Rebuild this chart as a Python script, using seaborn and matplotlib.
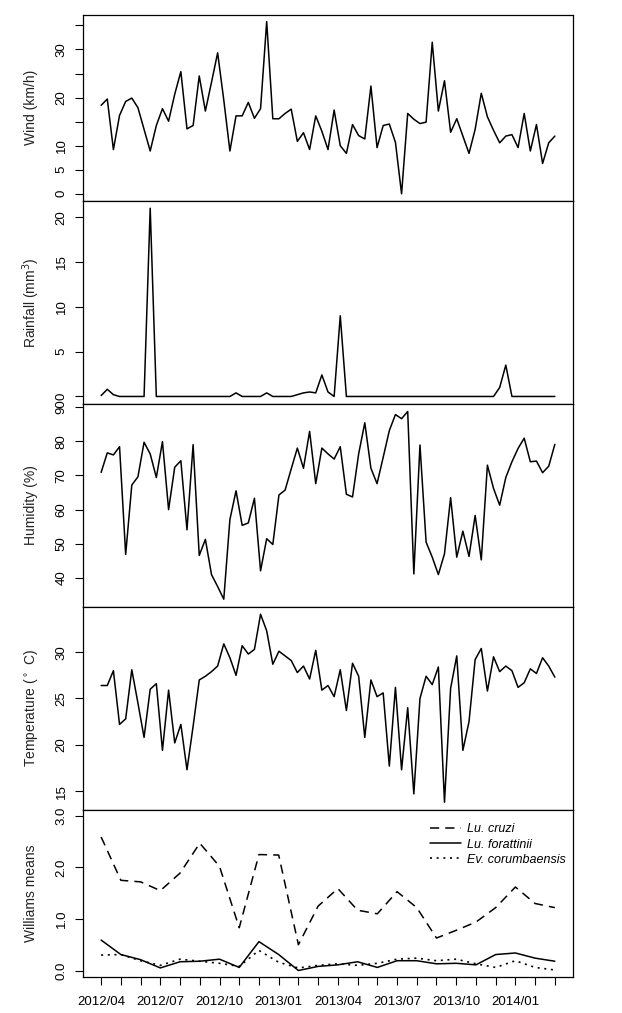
import numpy as np
import pandas as pd
import matplotlib
matplotlib.use('Agg')
import matplotlib.pyplot as plt
import seaborn as sns

# weather series (75 samples, 2012/04 - 2014/03)
wind = [18.4, 19.7, 9.2, 16.3, 19.2, 19.9, 17.9, 13.4, 8.9, 14.2,
        17.7, 15.1, 20.7, 25.4, 13.5, 14.2, 24.5, 17.2, 23.2, 29.3,
        19.5, 8.9, 16.2, 16.2, 19.0, 15.7, 17.7, 35.8, 15.6, 15.6,
        16.7, 17.6, 10.9, 12.7, 9.2, 16.2, 13.0, 9.2, 17.4, 10.0,
        8.4, 14.4, 12.1, 11.4, 22.4, 9.6, 14.2, 14.5, 10.7, 0.0,
        16.7, 15.5, 14.6, 14.9, 31.5, 17.2, 23.5, 12.8, 15.6, 12.0,
        8.4, 13.4, 20.9, 16.0, 13.2, 10.6, 12.0, 12.3, 9.6, 16.7,
        8.9, 14.4, 6.3, 10.6, 12.0]
rain = [0.1, 0.8, 0.2, 0, 0, 0, 0, 0, 21.0, 0,
        0, 0, 0, 0, 0, 0, 0, 0, 0, 0,
        0, 0, 0.4, 0, 0, 0, 0, 0.4, 0, 0,
        0, 0, 0.2, 0.4, 0.5, 0.4, 2.4, 0.5, 0, 9.0,
        0, 0, 0, 0, 0, 0, 0, 0, 0, 0,
        0, 0, 0, 0, 0, 0, 0, 0, 0, 0,
        0, 0, 0, 0, 0, 1.0, 3.5, 0, 0, 0,
        0, 0, 0, 0, 0]
humidity = [70.9, 76.6, 76.0, 78.4, 46.9, 67.2, 69.6, 79.7, 76.3, 69.4,
            79.9, 60.0, 72.4, 74.3, 54.1, 79.0, 46.6, 51.3, 41.0, 37.5,
            33.8, 57.1, 65.5, 55.4, 56.1, 63.3, 42.1, 51.5, 49.8, 64.3,
            65.7, 71.9, 78.0, 72.1, 82.9, 67.6, 78.0, 76.3, 74.8, 78.4,
            64.5, 63.7, 76.3, 85.4, 72.1, 67.6, 75.3, 83.1, 87.8, 86.6,
            88.7, 41.2, 78.9, 50.5, 46.1, 41.0, 47.1, 63.5, 46.1, 53.7,
            46.3, 58.3, 45.3, 73.0, 66.2, 61.3, 69.4, 74.0, 77.9, 80.9,
            74.0, 74.2, 70.8, 72.7, 79.1]
temperature = [26.4, 26.4, 28.0, 22.2, 22.8, 28.1, 24.5, 20.8, 26.0, 26.6,
               19.4, 25.9, 20.2, 22.2, 17.3, 22.0, 27.0, 27.4, 27.9, 28.5,
               30.9, 29.4, 27.5, 30.7, 29.8, 30.3, 34.1, 32.3, 28.7, 30.1,
               29.6, 29.1, 27.8, 28.5, 27.1, 30.2, 25.9, 26.4, 25.2, 28.1,
               23.7, 28.8, 27.4, 20.8, 27.0, 25.2, 25.6, 17.7, 26.2, 17.3,
               24.0, 14.7, 25.0, 27.4, 26.5, 28.4, 13.8, 26.1, 29.6, 19.4,
               22.5, 29.2, 30.4, 25.8, 29.5, 27.9, 28.5, 28.0, 26.2, 26.7,
               28.2, 27.7, 29.4, 28.5, 27.3]

# monthly Williams means
months = ['2012/04', '2012/05', '2012/06', '2012/07', '2012/08', '2012/09',
          '2012/10', '2012/11', '2012/12', '2013/01', '2013/02', '2013/03',
          '2013/04', '2013/05', '2013/06', '2013/07', '2013/08', '2013/09',
          '2013/10', '2013/11', '2013/12', '2014/01', '2014/02', '2014/03']
lu_cruzi = [2.59, 1.75, 1.72, 1.55, 1.89, 2.47, 2.02, 0.83, 2.25, 2.24, 0.50, 1.25,
            1.59, 1.17, 1.10, 1.53, 1.22, 0.63, 0.78, 0.94, 1.22, 1.62, 1.30, 1.22]
lu_forattinii = [0.59, 0.31, 0.21, 0.05, 0.17, 0.18, 0.22, 0.06, 0.56, 0.31, 0.00, 0.08,
                 0.11, 0.17, 0.06, 0.19, 0.19, 0.13, 0.14, 0.11, 0.31, 0.34, 0.24, 0.18]
ev_corumbaensis = [0.30, 0.31, 0.19, 0.10, 0.22, 0.18, 0.14, 0.08, 0.39, 0.16, 0.05, 0.10,
                   0.13, 0.10, 0.14, 0.22, 0.24, 0.19, 0.22, 0.13, 0.06, 0.19, 0.06, 0.01]

wind_ticks = [0, 5, 10, 15, 20, 25, 30, 35]
wind_ticklabels = ['0', '5', '10', '', '20', '', '30', '']
rain_ticks = [0, 5, 10, 15, 20]
hum_ticks = [40, 50, 60, 70, 80, 90]
temp_ticks = [15, 20, 25, 30]
will_ticks = [0, 1, 2, 3]

sns.set_style('ticks')
plt.rcParams['font.family'] = ['Liberation Sans', 'DejaVu Sans']
plt.rcParams['font.size'] = 9.5
plt.rcParams['axes.edgecolor'] = 'black'
plt.rcParams['axes.linewidth'] = 0.9
plt.rcParams['xtick.color'] = 'black'
plt.rcParams['ytick.color'] = 'black'
plt.rcParams['text.color'] = 'black'
plt.rcParams['axes.labelcolor'] = '#222222'

fig = plt.figure(figsize=(6.22, 10.13), dpi=100)
H = 1013.0
edges = [14.7, 200.7, 404, 606.7, 809.7, 976.7]


def add_panel(i):
    top, bottom = edges[i], edges[i + 1]
    return fig.add_axes([83 / 622, 1 - bottom / H, 490 / 622, (bottom - top) / H])


def style_panel(ax, ylabel, ticks, ticklabels=None):
    ax.margins(x=0.04, y=0.04)
    ax.set_yticks(ticks)
    if ticklabels is not None:
        ax.set_yticklabels(ticklabels)
    plt.setp(ax.get_yticklabels(), rotation=90, va='center')
    ax.tick_params(axis='y', length=6, width=0.8, pad=5, labelsize=9.5)
    ax.set_ylabel(ylabel, fontsize=10, va='center')
    ax.yaxis.set_label_coords(-0.106, 0.5)
    for s in ax.spines.values():
        s.set_visible(True)
        s.set_linewidth(0.9)


idx = np.arange(1, len(wind) + 1)
df_w = pd.DataFrame({'idx': idx, 'wind': wind, 'rain': rain,
                     'humidity': humidity, 'temperature': temperature})

panels = [('wind', 'Wind (km/h)', wind_ticks, wind_ticklabels),
          ('rain', 'Rainfall (mm$^3$)', rain_ticks, None),
          ('humidity', 'Humidity (%)', hum_ticks, None),
          ('temperature', r'Temperature ($^\circ$ C)', temp_ticks, None)]

for i, (col, lab, ticks, tl) in enumerate(panels):
    ax = add_panel(i)
    sns.lineplot(data=df_w, x='idx', y=col, color='black', linewidth=1.1, ax=ax)
    style_panel(ax, lab, ticks, tl)
    ax.set_xticks([])
    ax.set_xlabel('')

# bottom panel: Williams means
ax = add_panel(4)
mi = np.arange(1, len(months) + 1)
sns.lineplot(x=mi, y=lu_cruzi, color='black', linewidth=1.1, linestyle=(0, (6, 4)),
             label='Lu. cruzi', ax=ax)
sns.lineplot(x=mi, y=lu_forattinii, color='black', linewidth=1.1,
             label='Lu. forattinii', ax=ax)
sns.lineplot(x=mi, y=ev_corumbaensis, color='black', linewidth=1.2, linestyle=(0, (1.2, 2.8)),
             label='Ev. corumbaensis', ax=ax)
style_panel(ax, 'Williams means', will_ticks, ['%.1f' % t for t in will_ticks])
ax.set_ylim(0 - 0.04 * 3, 3 + 0.04 * 3)
ax.set_xticks(mi)
ax.set_xticklabels([m if k % 3 == 0 else '' for k, m in enumerate(months)])
ax.tick_params(axis='x', length=6, width=0.8, pad=8, labelsize=9.5)
ax.legend(loc='upper left', bbox_to_anchor=(0.685, 0.985), frameon=False,
          prop={'style': 'italic', 'size': 9}, handlelength=2.5,
          handletextpad=0.45, labelspacing=0.25, borderaxespad=0.5)

fig.savefig('out.png', dpi=100)
